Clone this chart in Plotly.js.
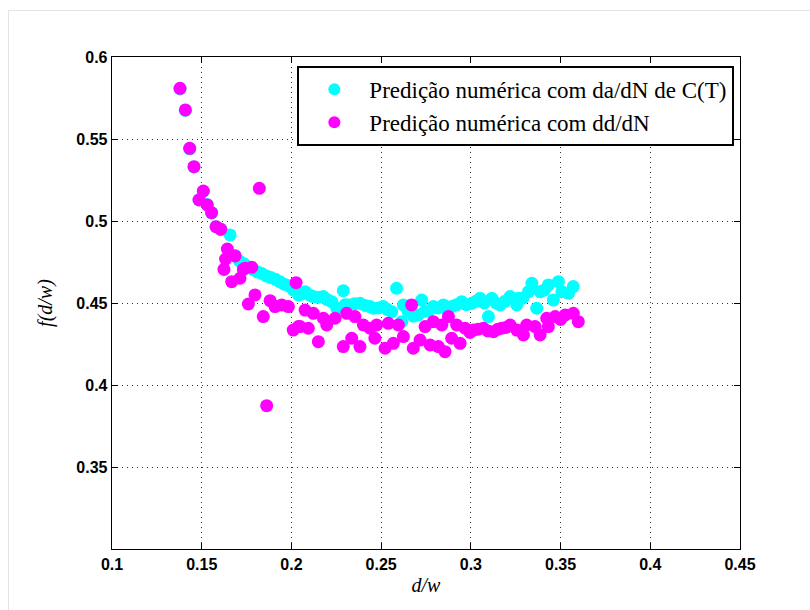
<!DOCTYPE html>
<html>
<head>
<meta charset="utf-8">
<script src="https://cdn.plot.ly/plotly-3.0.1.min.js"></script>
<style>
html,body{margin:0;padding:0;background:#fff;}
#chart{width:810px;height:610px;position:relative;}
#frame{position:absolute;left:8px;top:10px;width:810px;height:610px;border-left:1px solid #e4e4e4;border-top:1px solid #e4e4e4;pointer-events:none;}
</style>
</head>
<body>
<div id="chart"></div>
<div id="frame"></div>
<script>
// Series 1: Predição numérica com da/dN de C(T)
const cyanX = [0.1379,0.1409,0.1433,0.1457,0.1485,0.1509,0.1531,0.1555,0.1580,0.1606,0.1658,0.1685,0.1710,0.1735,0.1760,0.1785,0.1810,0.1835,0.1860,0.1885,0.1910,0.1935,0.1960,0.1985,0.2010,0.2039,0.2058,0.2076,0.2100,0.2122,0.2150,0.2178,0.2200,0.2225,0.2253,0.2289,0.2300,0.2318,0.2350,0.2382,0.2410,0.2438,0.2457,0.2485,0.2512,0.2535,0.2559,0.2586,0.2615,0.2624,0.2650,0.2679,0.2707,0.2726,0.2745,0.2768,0.2791,0.2815,0.2847,0.2865,0.2893,0.2920,0.2949,0.2975,0.3005,0.3028,0.3051,0.3075,0.3098,0.3117,0.3140,0.3163,0.3190,0.3219,0.3256,0.3265,0.3290,0.3321,0.3340,0.3367,0.3386,0.3410,0.3432,0.3460,0.3488,0.3507,0.3544,0.3571];
const cyanY = [0.5805,0.5675,0.5440,0.5330,0.5130,0.5180,0.5100,0.5050,0.4965,0.4950,0.4915,0.4790,0.4756,0.4740,0.4715,0.4705,0.4690,0.4680,0.4665,0.4655,0.4645,0.4630,0.4615,0.4605,0.4580,0.4549,0.4555,0.4569,0.4550,0.4539,0.4535,0.4539,0.4520,0.4508,0.4468,0.4575,0.4490,0.4488,0.4495,0.4498,0.4485,0.4478,0.4468,0.4470,0.4478,0.4460,0.4447,0.4590,0.4386,0.4488,0.4450,0.4420,0.4427,0.4518,0.4450,0.4455,0.4478,0.4470,0.4488,0.4460,0.4478,0.4490,0.4508,0.4490,0.4498,0.4510,0.4529,0.4500,0.4417,0.4529,0.4500,0.4488,0.4510,0.4539,0.4488,0.4529,0.4530,0.4569,0.4620,0.4468,0.4569,0.4580,0.4610,0.4518,0.4630,0.4569,0.4559,0.4600];

// Series 2: Predição numérica com dd/dN
const magX = [0.1379,0.1409,0.1433,0.1457,0.1485,0.1509,0.1531,0.1555,0.1580,0.1606,0.1624,0.1633,0.1643,0.1667,0.1686,0.1713,0.1732,0.1741,0.1760,0.1779,0.1797,0.1821,0.1843,0.1862,0.1881,0.1909,0.1946,0.1983,0.2010,0.2026,0.2039,0.2048,0.2076,0.2094,0.2122,0.2150,0.2178,0.2197,0.2243,0.2289,0.2308,0.2336,0.2354,0.2382,0.2401,0.2438,0.2465,0.2475,0.2522,0.2540,0.2568,0.2596,0.2624,0.2670,0.2679,0.2717,0.2745,0.2773,0.2791,0.2819,0.2838,0.2856,0.2875,0.2893,0.2921,0.2940,0.2968,0.2995,0.3014,0.3040,0.3070,0.3095,0.3126,0.3150,0.3172,0.3195,0.3219,0.3256,0.3293,0.3311,0.3358,0.3386,0.3423,0.3432,0.3470,0.3500,0.3526,0.3571,0.3599];
const magY = [0.5809,0.5677,0.5443,0.5331,0.5128,0.5183,0.5098,0.5051,0.4965,0.4949,0.4705,0.4768,0.4829,0.4630,0.4787,0.4651,0.4705,0.4712,0.4494,0.4718,0.4549,0.5199,0.4417,0.3874,0.4514,0.4478,0.4488,0.4478,0.4335,0.4624,0.4356,0.4356,0.4457,0.4346,0.4437,0.4264,0.4407,0.4366,0.4407,0.4234,0.4437,0.4285,0.4417,0.4234,0.4366,0.4346,0.4285,0.4366,0.4224,0.4376,0.4254,0.4366,0.4295,0.4488,0.4224,0.4274,0.4356,0.4244,0.4386,0.4234,0.4366,0.4203,0.4417,0.4285,0.4366,0.4254,0.4346,0.4320,0.4335,0.4340,0.4346,0.4330,0.4325,0.4340,0.4346,0.4350,0.4366,0.4335,0.4305,0.4366,0.4356,0.4305,0.4407,0.4356,0.4417,0.4400,0.4427,0.4437,0.4386];

const seriesNames = ['Predição numérica com da/dN de C(T)', 'Predição numérica com dd/dN'];
const xTicks = [0.1,0.15,0.2,0.25,0.3,0.35,0.4,0.45];
const yTicks = [0.35,0.4,0.45,0.5,0.55,0.6];

const traces = [
  {x: cyanX, y: cyanY, name: seriesNames[0], type: 'scatter', mode: 'markers',
   marker: {color: '#00FFFF', size: 13, symbol: 'circle', line: {width: 0}}},
  {x: magX, y: magY, name: seriesNames[1], type: 'scatter', mode: 'markers',
   marker: {color: '#FF00FF', size: 13, symbol: 'circle', line: {width: 0}}}
];

const axisCommon = {
  showline: true, linecolor: '#000', linewidth: 1.3, mirror: 'ticks',
  ticks: 'inside', ticklen: 6, tickcolor: '#000', tickwidth: 1,
  showgrid: true, gridcolor: '#333', griddash: '1px,4px', gridwidth: 1,
  zeroline: false,
  tickfont: {family: 'Liberation Sans, Arial, sans-serif', size: 16, color: '#000', weight: 'bold'}
};

const layout = {
  width: 810, height: 610,
  margin: {l: 112, r: 70, t: 57, b: 61},
  paper_bgcolor: '#fff', plot_bgcolor: '#fff',
  showlegend: true,
  xaxis: Object.assign({}, axisCommon, {
    range: [0.1, 0.45], tickvals: xTicks, ticktext: xTicks.map(String),
    title: {text: 'd/w', font: {family: 'Liberation Serif, Times New Roman, serif', size: 20, style: 'italic', color: '#000'}, standoff: 6}
  }),
  yaxis: Object.assign({}, axisCommon, {
    range: [0.3, 0.6], tickvals: yTicks, ticktext: yTicks.map(String),
    title: {text: 'f(d/w)', font: {family: 'Liberation Serif, Times New Roman, serif', size: 20, style: 'italic', color: '#000'}, standoff: 18}
  }),
  legend: {
    x: 0.991, y: 0.982, xanchor: 'right', yanchor: 'top',
    bgcolor: '#fff', bordercolor: '#000', borderwidth: 2,
    font: {family: 'Liberation Serif, Times New Roman, serif', size: 23, color: '#000'},
    itemsizing: 'constant', itemwidth: 60, tracegroupgap: 0
  }
};

Plotly.newPlot('chart', traces, layout, {displayModeBar: false, staticPlot: true});
</script>
</body>
</html>
